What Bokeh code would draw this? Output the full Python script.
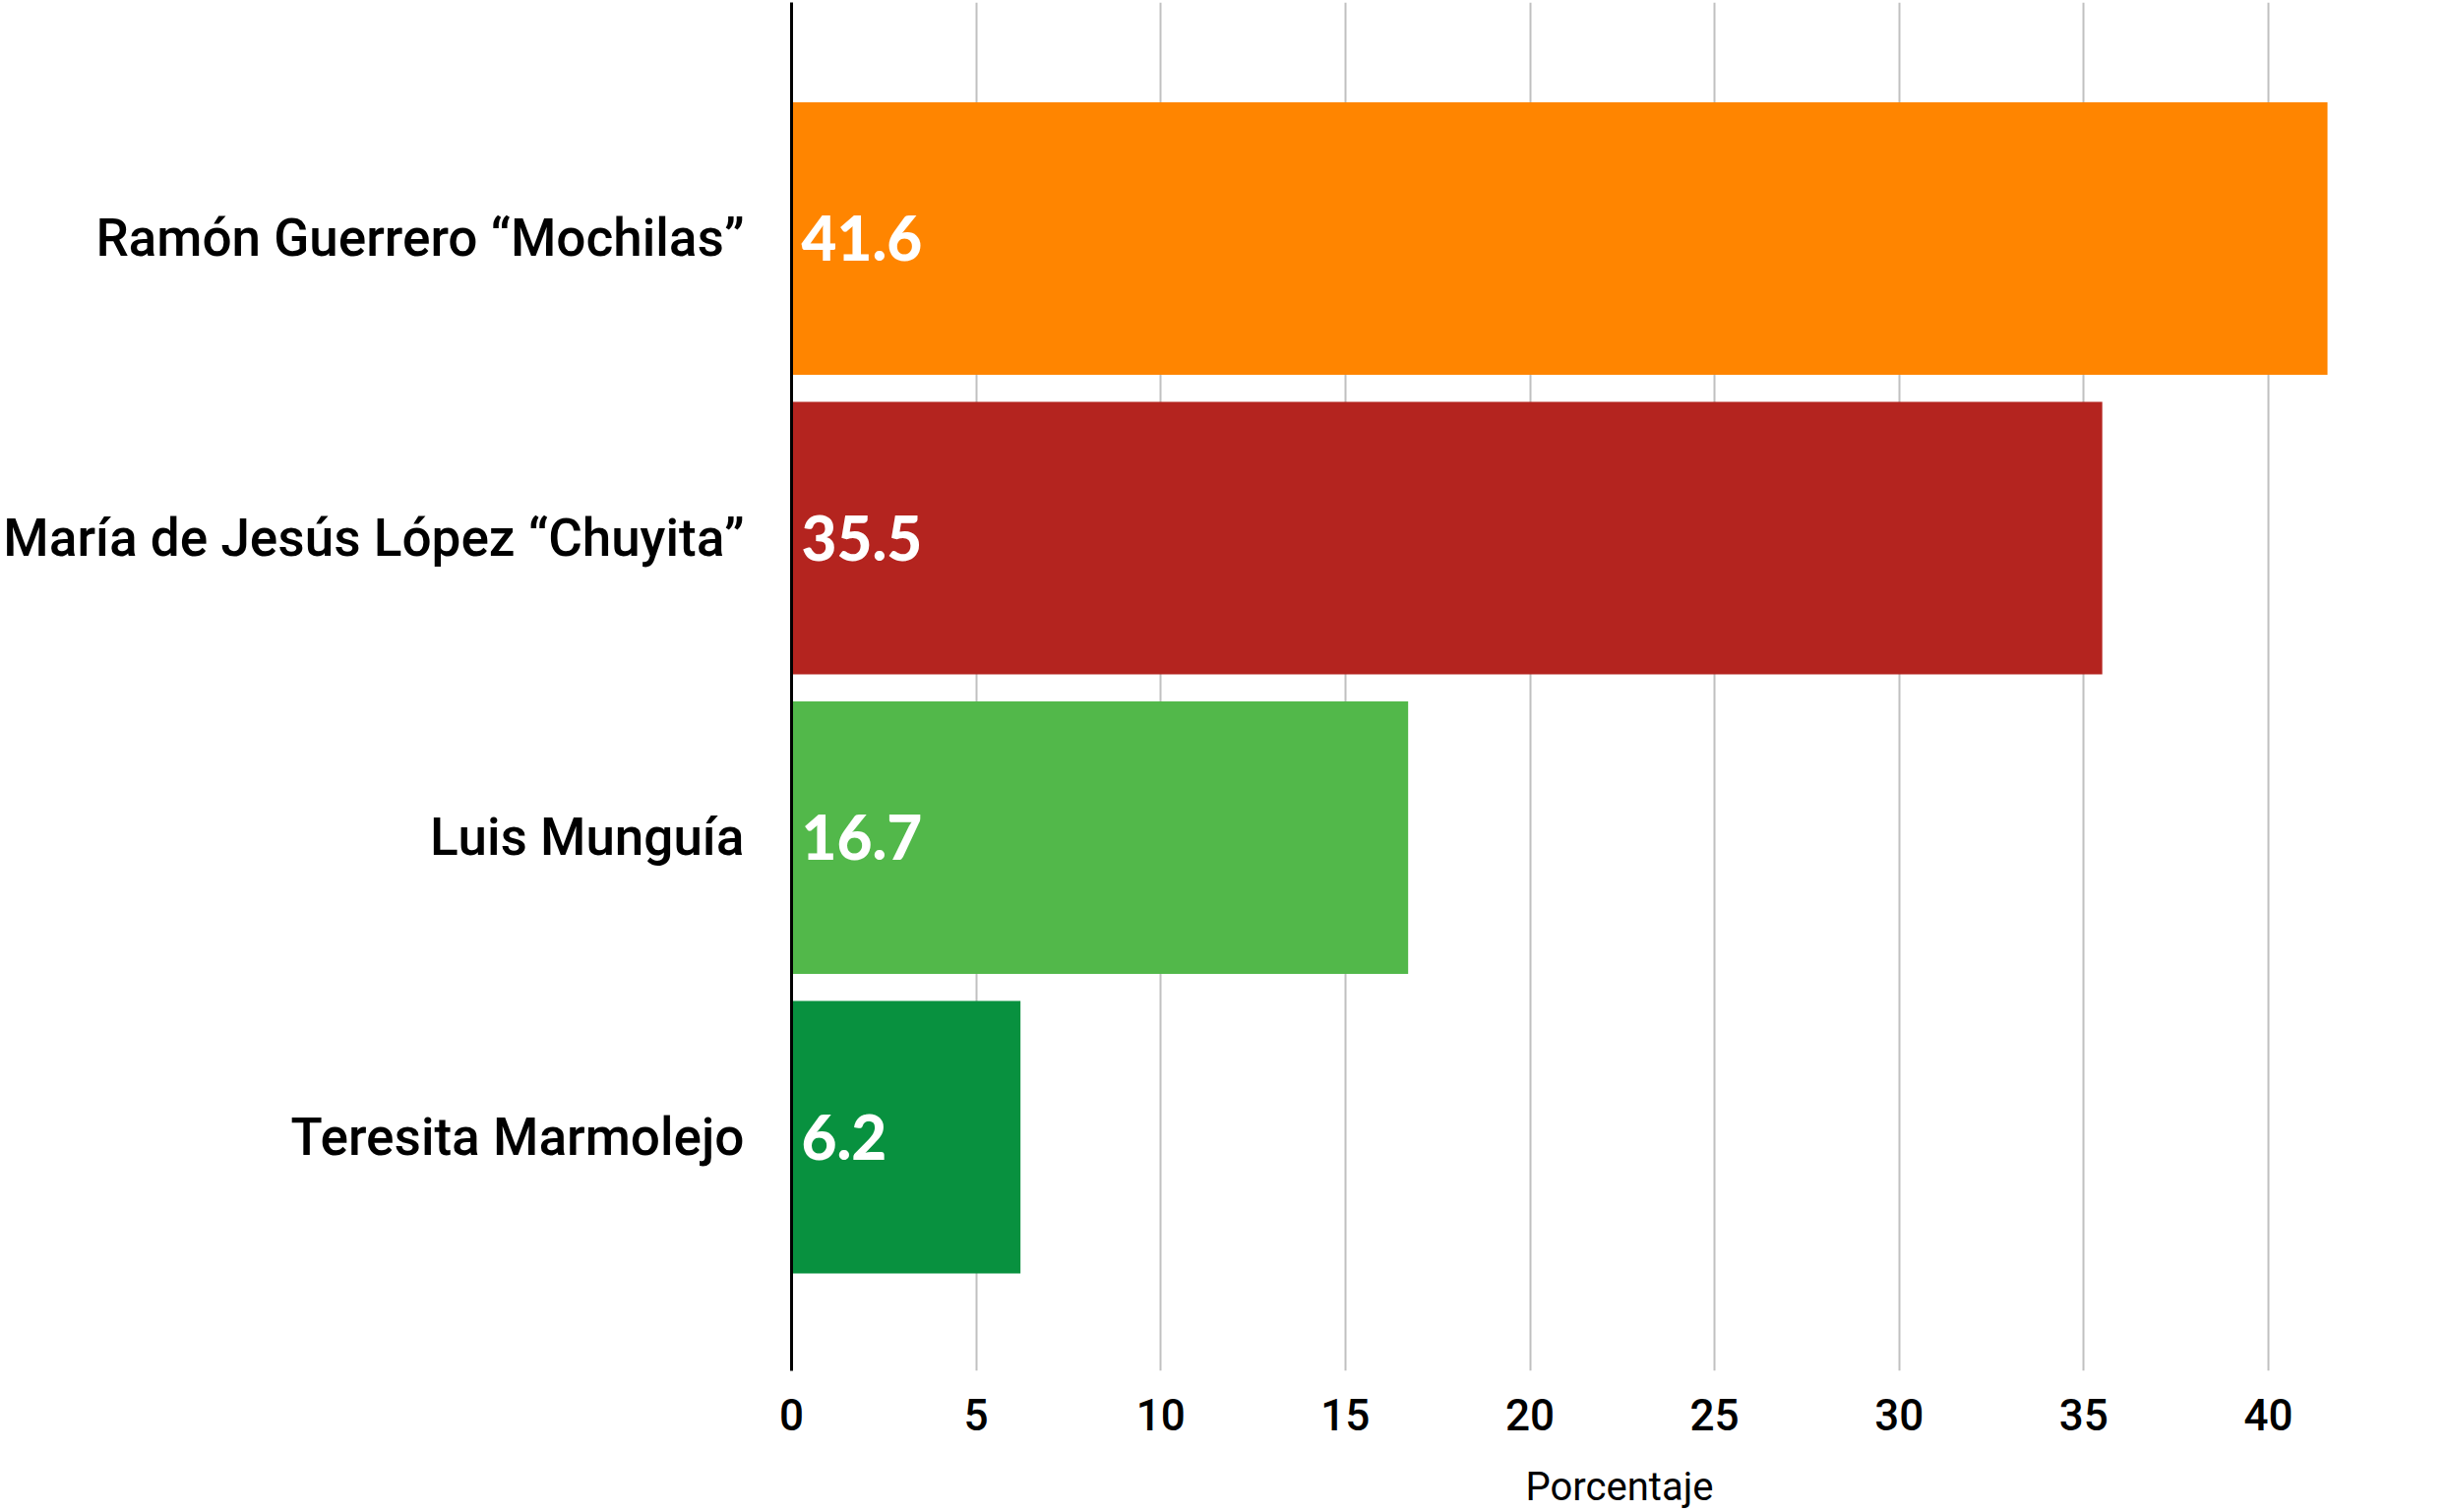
from bokeh.plotting import figure
from bokeh.models import ColumnDataSource, FixedTicker, Range1d
from bokeh.core.properties import value
from bokeh.embed import file_html
from bokeh.resources import INLINE

# ---- data ----
candidates = ["Ramón Guerrero “Mochilas”", "María de Jesús López “Chuyita”", "Luis Munguía", "Teresita Marmolejo"]
percent = [41.6, 35.5, 16.7, 6.2]
colors = ["#FF8500", "#B4241F", "#52B84A", "#08913F"]
x_ticks = [0, 5, 10, 15, 20, 25, 30, 35, 40, 45]
x_title = "Porcentaje"

n = len(candidates)
ypos = [n - 1 - i for i in range(n)]
labels = [f"{v}" for v in percent]

src = ColumnDataSource(dict(y=ypos, v=percent, c=colors, t=labels, zero=[0] * n))

W, H = 2487, 1537
p = figure(width=W, height=H, output_backend="svg", toolbar_location=None,
           x_range=Range1d(0, 44.85), y_range=Range1d(-0.780, 3.788),
           min_border_left=803, min_border_right=0, min_border_top=2, min_border_bottom=144)
p.outline_line_color = None
p.background_fill_color = "white"

p.hbar(y="y", left="zero", right="v", height=0.91, fill_color="c", line_color=None, source=src)
p.text(x="zero", y="y", text="t", source=src, x_offset=10, text_baseline="middle", text_align="left",
       text_color="white", text_font=value("Lato Black"), text_font_size="62px")

# x axis
xa = p.xaxis[0]
xa.ticker = FixedTicker(ticks=x_ticks)
xa.axis_line_color = None
xa.major_tick_line_color = None
xa.minor_tick_line_color = None
xa.major_label_text_font = "Roboto Medium"
xa.major_label_text_font_size = "44px"
xa.major_label_text_color = "black"
xa.major_label_standoff = 22
xa.axis_label = x_title
xa.axis_label_text_font = "Roboto"
xa.axis_label_text_font_style = "normal"
xa.axis_label_text_font_size = "40px"
xa.axis_label_text_color = "black"
xa.axis_label_standoff = 31

# y axis
ya = p.yaxis[0]
ya.ticker = FixedTicker(ticks=ypos)
ya.major_label_overrides = {y: name for y, name in zip(ypos, candidates)}
ya.axis_line_color = "black"
ya.axis_line_width = 3
ya.major_tick_line_color = None
ya.minor_tick_line_color = None
ya.major_label_text_font = "Roboto Medium"
ya.major_label_text_font_size = "53px"
ya.major_label_text_color = "black"
ya.major_label_standoff = 42

p.xgrid.grid_line_color = "#C0C0C0"
p.xgrid.grid_line_width = 2
p.xgrid.ticker = FixedTicker(ticks=x_ticks)
p.ygrid.grid_line_color = None

open("out.html", "w").write(file_html(p, INLINE))
